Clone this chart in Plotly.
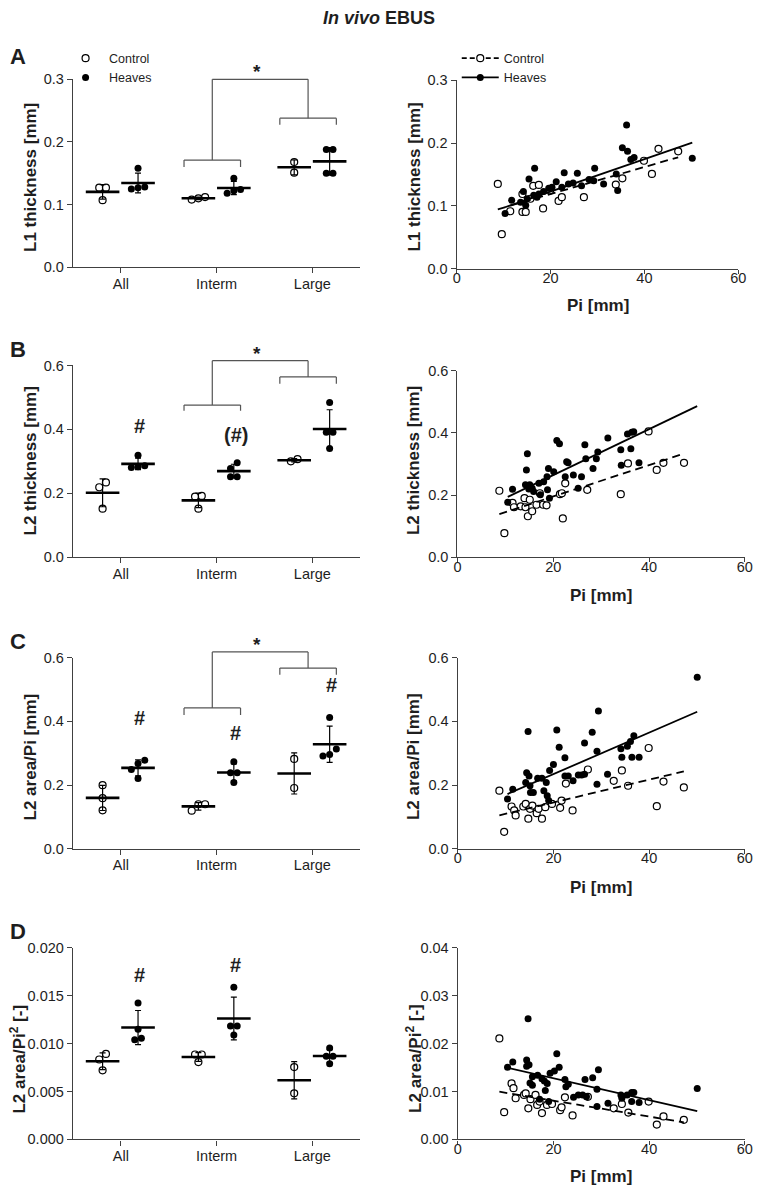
import numpy as np
import plotly.graph_objects as go

W, H = 762, 1199
FONT = "Liberation Sans, Arial, sans-serif"
INK = "#1e1e1e"
AXIS = "#404040"

categories = ["All", "Interm", "Large"]

# ---------------- left column: dot plots (values per category) ----------------
A_control = [[0.127, 0.127, 0.107], [0.112, 0.108, 0.110], [0.168, 0.151]]
A_heaves = [[0.158, 0.125, 0.127, 0.128], [0.142, 0.118, 0.122, 0.124], [0.188, 0.188, 0.150, 0.150]]
B_control = [[0.234, 0.219, 0.152], [0.192, 0.190, 0.152], [0.300, 0.307]]
B_heaves = [[0.319, 0.286, 0.281, 0.283], [0.296, 0.278, 0.252, 0.252], [0.484, 0.391, 0.391, 0.340]]
C_control = [[0.200, 0.159, 0.121], [0.140, 0.140, 0.120], [0.282, 0.191]]
C_heaves = [[0.278, 0.268, 0.249, 0.221], [0.273, 0.239, 0.239, 0.208], [0.412, 0.313, 0.291, 0.296]]
D_control = [[0.00893, 0.00835, 0.00722], [0.00887, 0.00887, 0.00808], [0.00756, 0.00481]]
D_heaves = [[0.01426, 0.01151, 0.01040, 0.01058], [0.01590, 0.01186, 0.01186, 0.01090], [0.00955, 0.00870, 0.00870, 0.00790]]

# ---------------- right column: scatter vs Pi ----------------
A_ctrl_pi = [8.75, 9.6, 11.4, 14.0, 14.7, 14.0, 16.3, 17.5, 18.4, 21.7, 22.4, 27.1, 33.9, 35.3, 39.9, 41.6, 43.0, 47.2, 15.7, 19.9]
A_ctrl_val = [0.135, 0.055, 0.0916, 0.0905, 0.0905, 0.119, 0.132, 0.1335, 0.096, 0.108, 0.114, 0.114, 0.134, 0.144, 0.172, 0.151, 0.191, 0.187, 0.1115, 0.1245]
A_heav_pi = [10.3, 11.7, 14.2, 15.4, 16.6, 14.7, 15.0, 16.4, 17.5, 18.5, 19.6, 20.3, 21.2, 22.4, 22.9, 23.8, 24.8, 25.7, 26.6, 28.2, 29.2, 29.4, 31.3, 34.0, 34.3, 35.3, 36.4, 36.2, 37.1, 37.8, 50.2, 13.6, 17.1]
A_heav_val = [0.088, 0.109, 0.123, 0.143, 0.160, 0.101, 0.1115, 0.117, 0.119, 0.123, 0.128, 0.1297, 0.1387, 0.1297, 0.153, 0.135, 0.1366, 0.152, 0.132, 0.142, 0.140, 0.160, 0.135, 0.151, 0.1245, 0.1926, 0.187, 0.229, 0.174, 0.177, 0.176, 0.106, 0.114]

B_ctrl_pi = [8.75, 9.8, 11.5, 11.8, 13.2, 14.0, 14.2, 14.7, 15.1, 15.6, 16.5, 17.2, 17.9, 18.6, 21.4, 22.0, 22.5, 21.8, 27.1, 34.1, 35.6, 39.9, 41.6, 43.0, 47.3]
B_ctrl_val = [0.214, 0.0775, 0.175, 0.161, 0.164, 0.190, 0.161, 0.132, 0.185, 0.148, 0.169, 0.206, 0.169, 0.167, 0.203, 0.125, 0.238, 0.206, 0.217, 0.203, 0.302, 0.405, 0.281, 0.304, 0.304]
B_heav_pi = [50.05, 10.5, 11.5, 14.6, 14.4, 14.2, 15.1, 15.6, 14.9, 15.9, 17.0, 18.0, 17.3, 18.7, 19.0, 18.8, 19.2, 20.1, 20.75, 21.3, 22.5, 22.8, 23.1, 24.2, 25.2, 25.9, 26.6, 26.8, 28.3, 29.0, 29.3, 31.4, 34.1, 34.2, 35.5, 36.4, 36.2, 37.9, 36.8]
B_heav_val = [0.614, 0.177, 0.219, 0.333, 0.281, 0.233, 0.233, 0.222, 0.220, 0.212, 0.238, 0.243, 0.201, 0.259, 0.286, 0.217, 0.190, 0.275, 0.376, 0.365, 0.259, 0.307, 0.304, 0.265, 0.222, 0.259, 0.362, 0.317, 0.286, 0.317, 0.339, 0.384, 0.346, 0.296, 0.397, 0.402, 0.349, 0.304, 0.404]

C_ctrl_pi = [8.7, 9.7, 11.25, 11.8, 12.1, 13.7, 14.2, 14.75, 15.1, 15.6, 16.5, 16.9, 17.6, 18.3, 19.7, 21.4, 21.7, 22.6, 24.0, 27.2, 32.6, 34.3, 35.6, 39.9, 41.6, 43.0, 47.25]
C_ctrl_val = [0.1825, 0.0535, 0.133, 0.1206, 0.105, 0.133, 0.141, 0.0947, 0.1256, 0.136, 0.112, 0.1256, 0.0947, 0.131, 0.141, 0.1287, 0.1515, 0.205, 0.1206, 0.249, 0.2134, 0.246, 0.198, 0.3164, 0.134, 0.211, 0.1927]
C_heav_pi = [50.05, 10.4, 11.5, 14.7, 14.4, 14.9, 14.2, 15.1, 15.2, 15.8, 16.7, 17.6, 18.0, 18.5, 18.7, 19.0, 19.2, 20.0, 20.7, 21.2, 22.4, 22.4, 23.1, 24.1, 25.2, 25.9, 26.5, 26.5, 28.1, 29.1, 29.4, 29.1, 31.3, 34.1, 34.3, 35.45, 36.1, 36.8, 36.4, 37.9]
C_heav_val = [0.538, 0.1565, 0.187, 0.368, 0.239, 0.229, 0.208, 0.198, 0.177, 0.177, 0.2215, 0.2215, 0.1825, 0.208, 0.167, 0.1515, 0.246, 0.265, 0.373, 0.3186, 0.2855, 0.229, 0.229, 0.2134, 0.232, 0.232, 0.234, 0.332, 0.366, 0.306, 0.432, 0.203, 0.234, 0.314, 0.2877, 0.3217, 0.337, 0.3545, 0.2877, 0.2877]

D_ctrl_pi = [8.7, 9.7, 11.25, 11.65, 12.1, 13.85, 14.2, 14.75, 15.2, 16.25, 16.6, 17.1, 17.6, 18.65, 19.7, 21.4, 21.7, 22.4, 24.0, 27.2, 32.6, 34.3, 35.65, 39.9, 41.6, 43.0, 47.25]
D_ctrl_val = [0.0211, 0.0057, 0.0117, 0.0107, 0.0086, 0.0093, 0.0096, 0.0065, 0.0084, 0.0093, 0.0072, 0.0079, 0.0055, 0.0072, 0.0074, 0.0061, 0.0067, 0.0088, 0.0050, 0.0089, 0.0065, 0.0074, 0.0056, 0.0079, 0.0031, 0.0048, 0.0041]
D_heav_pi = [50.05, 14.7, 10.4, 11.5, 14.4, 14.9, 14.4, 15.6, 15.1, 15.6, 16.7, 17.6, 18.1, 18.7, 18.3, 17.1, 19.0, 19.3, 20.2, 20.7, 21.2, 22.4, 22.6, 23.1, 24.2, 25.2, 26.1, 26.9, 26.6, 28.2, 29.4, 29.1, 29.1, 31.4, 34.1, 34.3, 35.4, 36.35, 36.8, 36.35, 37.9]
D_heav_val = [0.01066, 0.0252, 0.0151, 0.0162, 0.0166, 0.0156, 0.0153, 0.0131, 0.0118, 0.0113, 0.0134, 0.0127, 0.0122, 0.0117, 0.0102, 0.0084, 0.0079, 0.0138, 0.0143, 0.0179, 0.0151, 0.0125, 0.0110, 0.01155, 0.0088, 0.0093, 0.0093, 0.0089, 0.0125, 0.0129, 0.01457, 0.0105, 0.0069, 0.00757, 0.0093, 0.0086, 0.0093, 0.0098, 0.0098, 0.0079, 0.0077]

# regression lines: (slope, intercept)
A_fit_ctrl, A_fit_heav = (0.002153, 0.0759), (0.00258, 0.0714)
B_fit_ctrl, B_fit_heav = (0.00505, 0.0946), (0.00738, 0.117)
C_fit_ctrl, C_fit_heav = (0.00357, 0.0743), (0.00651, 0.1043)
D_fit_ctrl, D_fit_heav = (-0.000166, 0.01141), (-0.000229, 0.01735)


def dom_x(l, r):
    return [l / W, r / W]


def dom_y(top, bottom):
    return [1 - bottom / H, 1 - top / H]


def ax_id(n):
    s = "" if n == 1 else str(n)
    return "x" + s, "y" + s, "xaxis" + s, "yaxis" + s


left_panels = [
    dict(ctrl=A_control, heav=A_heaves, yr=[0, 0.3], dt=0.1, fmt=".1f", box=(70, 362, 72.3, 262.7)),
    dict(ctrl=B_control, heav=B_heaves, yr=[0, 0.6], dt=0.2, fmt=".1f", box=(70, 362, 362.3, 556.7)),
    dict(ctrl=C_control, heav=C_heaves, yr=[0, 0.6], dt=0.2, fmt=".1f", box=(70, 362, 658.3, 852.3)),
    dict(ctrl=D_control, heav=D_heaves, yr=[0, 0.02], dt=0.005, fmt=".3f", box=(70, 362, 952.7, 1146.7)),
]
right_panels = [
    dict(cx=A_ctrl_pi, cy=A_ctrl_val, hx=A_heav_pi, hy=A_heav_val, fc=A_fit_ctrl, fh=A_fit_heav,
         yr=[0, 0.3], dt=0.1, fmt=".1f", box=(460, 746, 73.3, 264.3)),
    dict(cx=B_ctrl_pi, cy=B_ctrl_val, hx=B_heav_pi, hy=B_heav_val, fc=B_fit_ctrl, fh=B_fit_heav,
         yr=[0, 0.6], dt=0.2, fmt=".1f", box=(460.7, 752.7, 367.7, 556.7)),
    dict(cx=C_ctrl_pi, cy=C_ctrl_val, hx=C_heav_pi, hy=C_heav_val, fc=C_fit_ctrl, fh=C_fit_heav,
         yr=[0, 0.6], dt=0.2, fmt=".1f", box=(461, 752.7, 658.3, 852.3)),
    dict(cx=D_ctrl_pi, cy=D_ctrl_val, hx=D_heav_pi, hy=D_heav_val, fc=D_fit_ctrl, fh=D_fit_heav,
         yr=[0, 0.04], dt=0.01, fmt=".2f", box=(461, 752.7, 952.7, 1146.7)),
]

CTRL_OFF, HEAV_OFF = -0.19, 0.18
DIAM = 6.8


def swarm(vals, center, ppu_y, ppu_x):
    vals = np.asarray(vals, dtype=float)
    order = np.argsort(vals)
    xs = np.zeros(len(vals))
    clusters, cur = [], [order[0]]
    for a, b in zip(order[:-1], order[1:]):
        if (vals[b] - vals[a]) * ppu_y < DIAM:
            cur.append(b)
        else:
            clusters.append(cur)
            cur = [b]
    clusters.append(cur)
    for cl in clusters:
        n = len(cl)
        for k, idx in enumerate(cl):
            xs[idx] = center + (k - (n - 1) / 2) * DIAM / ppu_x
    return xs


fig = go.Figure()
layout = {}
open_marker = dict(symbol="circle", size=7, color="white", line=dict(color="black", width=1.2))
fill_marker = dict(symbol="circle", size=7, color="black", line=dict(color="black", width=0))
tickfont = dict(family=FONT, size=14.5, color=INK)

for i, p in enumerate(left_panels):
    xa, ya, xk, yk = ax_id(2 * i + 1)
    l, r, t, b = p["box"]
    ppu_x = (r - l) / 3.0
    ppu_y = (b - t) / (p["yr"][1] - p["yr"][0])
    for key, off, mk, name in (("ctrl", CTRL_OFF, open_marker, "Control"), ("heav", HEAV_OFF, fill_marker, "Heaves")):
        groups = p[key]
        xs_all, ys_all, cx, means, sds = [], [], [], [], []
        for c, vals in enumerate(groups):
            xs = swarm(vals, c + off, ppu_y, ppu_x)
            xs_all += list(xs)
            ys_all += list(vals)
            cx.append(c + off)
            means.append(float(np.mean(vals)))
            sds.append(float(np.std(vals, ddof=1)))
        fig.add_trace(go.Scatter(x=xs_all, y=ys_all, mode="markers", marker=mk, name=name,
                                 showlegend=(i == 0), legend="legend", xaxis=xa, yaxis=ya, cliponaxis=False))
        fig.add_trace(go.Scatter(x=cx, y=means, mode="markers", marker=dict(size=1, opacity=0),
                                 error_y=dict(type="data", array=sds, color="black", thickness=1.2, width=3),
                                 showlegend=False, xaxis=xa, yaxis=ya, cliponaxis=False))
        fig.add_trace(go.Scatter(x=cx, y=means, mode="markers",
                                 marker=dict(symbol="line-ew", size=24, line=dict(color="black", width=2.6)),
                                 showlegend=False, xaxis=xa, yaxis=ya, cliponaxis=False))
    layout[xk] = dict(domain=dom_x(l, r), anchor=ya, range=[-0.5, 2.5], tickvals=[0, 1, 2],
                      ticktext=categories, showline=True, linecolor=AXIS, linewidth=1.3,
                      ticks="outside", ticklen=5, tickwidth=1.2, tickcolor=AXIS, showgrid=False,
                      zeroline=False, tickfont=tickfont, ticklabelstandoff=-2)
    layout[yk] = dict(domain=dom_y(t, b), anchor=xa, range=p["yr"], dtick=p["dt"], tick0=0,
                      tickformat=p["fmt"], showline=True, linecolor=AXIS, linewidth=1.3,
                      ticks="outside", ticklen=5, tickwidth=1.2, tickcolor=AXIS, showgrid=False,
                      zeroline=False, tickfont=tickfont)

for i, p in enumerate(right_panels):
    xa, ya, xk, yk = ax_id(2 * i + 2)
    l, r, t, b = p["box"]
    fig.add_trace(go.Scatter(x=p["cx"], y=p["cy"], mode="markers", marker=open_marker, showlegend=False,
                             xaxis=xa, yaxis=ya, cliponaxis=False))
    fig.add_trace(go.Scatter(x=p["hx"], y=p["hy"], mode="markers", marker=fill_marker, showlegend=False,
                             xaxis=xa, yaxis=ya, cliponaxis=False))
    for xs, fit, dash in ((p["cx"], p["fc"], "8px,5px"), (p["hx"], p["fh"], "solid")):
        x0, x1 = min(xs), max(xs)
        fig.add_trace(go.Scatter(x=[x0, x1], y=[fit[1] + fit[0] * x0, fit[1] + fit[0] * x1], mode="lines",
                                 line=dict(color="black", width=1.8, dash=dash), showlegend=False,
                                 xaxis=xa, yaxis=ya))
    layout[xk] = dict(domain=dom_x(l, r), anchor=ya, range=[0, 60], tickvals=[0, 20, 40, 60],
                      showline=True, linecolor=AXIS, linewidth=1.3, ticks="outside", ticklen=4,
                      tickwidth=1.2, tickcolor=AXIS, showgrid=False, zeroline=False, tickfont=tickfont,
                      ticklabelstandoff=-8)
    layout[yk] = dict(domain=dom_y(t, b), anchor=xa, range=p["yr"], dtick=p["dt"], tick0=0,
                      tickformat=p["fmt"], showline=True, linecolor=AXIS, linewidth=1.3,
                      ticks="outside", ticklen=5, tickwidth=1.2, tickcolor=AXIS, showgrid=False,
                      zeroline=False, tickfont=tickfont)

# legend entries for the regression panel
fig.add_trace(go.Scatter(x=[None], y=[None], mode="lines+markers", name="Control", marker=open_marker,
                         line=dict(color="black", width=1.8, dash="5px,3px"), legend="legend2", xaxis="x2", yaxis="y2"))
fig.add_trace(go.Scatter(x=[None], y=[None], mode="lines+markers", name="Heaves", marker=fill_marker,
                         line=dict(color="black", width=1.8), legend="legend2", xaxis="x2", yaxis="y2"))

# ---------------- significance brackets ----------------
shapes, annotations = [], []
BR = dict(color="#555555", width=1.2)
brackets = [  # panel n, interm bracket y, drop, large bracket y, drop, connector top, y-range
    (1, 0.171, 0.011, 0.238, 0.0105, 0.300, [0, 0.3]),
    (3, 0.476, 0.018, 0.564, 0.021, 0.615, [0, 0.6]),
    (5, 0.442, 0.022, 0.567, 0.021, 0.6175, [0, 0.6]),
]
for n, yi, di, yl, dl, top, yr in brackets:
    xa, ya, _, _ = ax_id(n)
    fr = lambda v: (v - yr[0]) / (yr[1] - yr[0])
    segs = []
    for (x0, x1), yb, d in (((0.66, 1.25), yi, di), ((1.66, 2.25), yl, dl)):
        segs += [(x0, yb - d, x0, yb), (x0, yb, x1, yb), (x1, yb, x1, yb - d)]
    segs += [(0.955, yi, 0.955, top), (0.955, top, 1.955, top), (1.955, top, 1.955, yl)]
    for x0, y0, x1, y1 in segs:
        shapes.append(dict(type="line", xref=xa, yref=ya + " domain", x0=x0, x1=x1,
                           y0=fr(y0), y1=fr(y1), line=BR))
    annotations.append(dict(x=1.42, y=fr(top), xref=xa, yref=ya + " domain", text="<b>*</b>", showarrow=False,
                            yanchor="bottom", yshift=-5, font=dict(family=FONT, size=19, color=INK)))

hashes = [(3, 0, 0.41, "#"), (3, 1, 0.383, "(#)"), (5, 0, 0.411, "#"), (5, 1, 0.363, "#"), (5, 2, 0.514, "#"),
          (7, 0, 0.0172, "#"), (7, 1, 0.0182, "#")]
for n, c, y, txt in hashes:
    xa, ya, _, _ = ax_id(n)
    annotations.append(dict(x=c + HEAV_OFF + 0.02, y=y, xref=xa, yref=ya, text=f"<b>{txt}</b>",
                            showarrow=False, font=dict(family=FONT, size=20, color=INK)))


def pa(x, y, text, size, bold=True, angle=0, xanchor="center"):
    annotations.append(dict(x=x / W, y=1 - y / H, xref="paper", yref="paper", text=f"<b>{text}</b>" if bold else text,
                            showarrow=False, textangle=angle, xanchor=xanchor, yanchor="middle",
                            font=dict(family=FONT, size=size, color=INK)))


pa(381, 10, "<i>In vivo</i> EBUS", 18)
for letter, y in (("A", 49), ("B", 346), ("C", 642), ("D", 936)):
    pa(14, y, letter, 22)
ytitles = ["L1 thickness [mm]", "L2 thickness [mm]", "L2 area/Pi [mm]", "L2 area/Pi<sup>2</sup> [-]"]
ycent = [171.7, 459, 759, 1065]
yleftx = [27, 27, 27, 14]
for txt, yc, xl in zip(ytitles, ycent, yleftx):
    pa(xl, yc, txt, 17, angle=-90)
    pa(416.7, yc, txt, 17, angle=-90)
for xc, yc in ((603, 302), (607, 595), (607, 891), (607, 1184)):
    pa(xc, yc, "Pi [mm]", 17)

legend_style = dict(xanchor="left", yanchor="top", font=dict(family=FONT, size=12.5, color=INK),
                    bgcolor="rgba(0,0,0,0)", tracegroupgap=0, itemwidth=37)
fig.update_layout(
    width=W, height=H, margin=dict(l=0, r=0, t=0, b=0),
    paper_bgcolor="white", plot_bgcolor="white",
    font=dict(family=FONT, color=INK),
    shapes=shapes, annotations=annotations,
    legend=dict(x=59 / W, y=1 - 36 / H, **legend_style),
    legend2=dict(x=460 / W, y=1 - 36 / H, **legend_style),
    **layout,
)

fig.write_html("out.html", config={"displayModeBar": False},
               post_script="document.body.style.margin='0px';")
